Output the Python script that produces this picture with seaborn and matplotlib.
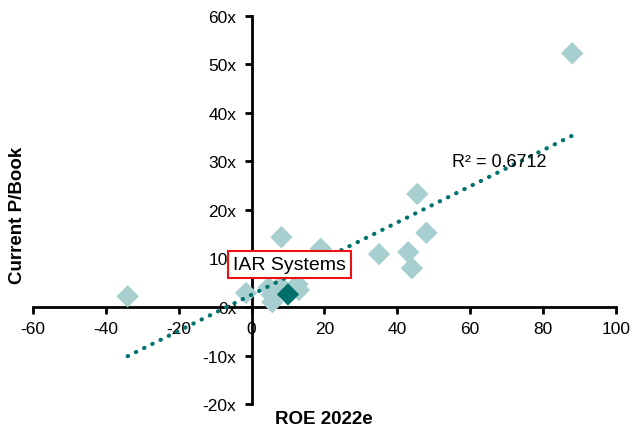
import numpy as np
import matplotlib
matplotlib.use('Agg')
import matplotlib.pyplot as plt
import seaborn as sns
import pandas as pd

sns.set_style('white')
plt.rcParams['font.family'] = ['Liberation Sans', 'DejaVu Sans']
plt.rcParams['text.color'] = 'black'
plt.rcParams['xtick.color'] = 'black'
plt.rcParams['ytick.color'] = 'black'
plt.rcParams['axes.unicode_minus'] = False

# ROE 2022e (%) vs current P/Book (x)
roe = [-34, -1.5, 4.7, 5.7, 5.5, 8.0, 12.6, 13.0, 8.2, 19.0, 35.0, 43.0, 44.0, 45.5, 48.0, 88.0]
pb = [2.2, 2.9, 4.0, 1.0, 2.5, 4.3, 4.7, 3.5, 14.4, 12.0, 10.9, 11.3, 8.0, 23.3, 15.3, 52.3]
iar_roe = [10.0]
iar_pb = [2.6]
r2_label = 'R² = 0.6712'
x_ticks = [-60, -40, -20, 0, 20, 40, 60, 80, 100]
y_ticks = [-20, -10, 0, 10, 20, 30, 40, 50, 60]

df = pd.DataFrame({'roe': roe + iar_roe, 'pb': pb + iar_pb})

fig = plt.figure(figsize=(6.33, 4.31), dpi=100)
ax = fig.add_axes([0.052, 0.0603, 0.921, 0.9003])

light = '#a7cfcf'
dark = '#006e6a'

sns.scatterplot(x=roe, y=pb, marker='D', s=130, color=light, edgecolor='none', ax=ax, zorder=3)
sns.scatterplot(x=iar_roe, y=iar_pb, marker='D', s=130, color=dark, edgecolor='none', ax=ax, zorder=4)

# linear trend line over all companies
k, b = np.polyfit(df['roe'], df['pb'], 1)
xs = np.array([df['roe'].min(), df['roe'].max()])
ax.plot(xs, k * xs + b, color='#00736f', lw=3, ls=(0, (0.1, 2.1)),
        dash_capstyle='round', zorder=5)

ax.text(55, 30, r2_label, fontsize=13, ha='left', va='center', zorder=6)

ax.text(-5.1, 8.8, 'IAR Systems', fontsize=14, ha='left', va='center', zorder=7,
        bbox=dict(boxstyle='square,pad=0.25', fc='white', ec='#ee1111', lw=1.5))

ax.set_xlim(-60, 100)
ax.set_ylim(-20, 60)
ax.set_xticks(x_ticks)
ax.set_yticks(y_ticks)
ax.set_yticklabels([f'{v}x' for v in y_ticks])

for side in ['top', 'right']:
    ax.spines[side].set_visible(False)
ax.spines['left'].set_position(('data', 0))
ax.spines['bottom'].set_position(('data', 0))
for side in ['left', 'bottom']:
    ax.spines[side].set_linewidth(2)
    ax.spines[side].set_color('black')
ax.tick_params(axis='both', which='major', labelsize=12.5, length=5, width=2,
               color='black', direction='out')
ax.tick_params(axis='x', bottom=True, pad=5)
ax.tick_params(axis='y', left=True, pad=6)

fig.text(0.028, 0.5, 'Current P/Book', rotation=90, fontsize=13.5, fontweight='bold',
         ha='center', va='center')
fig.text(0.512, 0.026, 'ROE 2022e', fontsize=13.5, fontweight='bold',
         ha='center', va='center')

fig.savefig('out.png', dpi=100)
